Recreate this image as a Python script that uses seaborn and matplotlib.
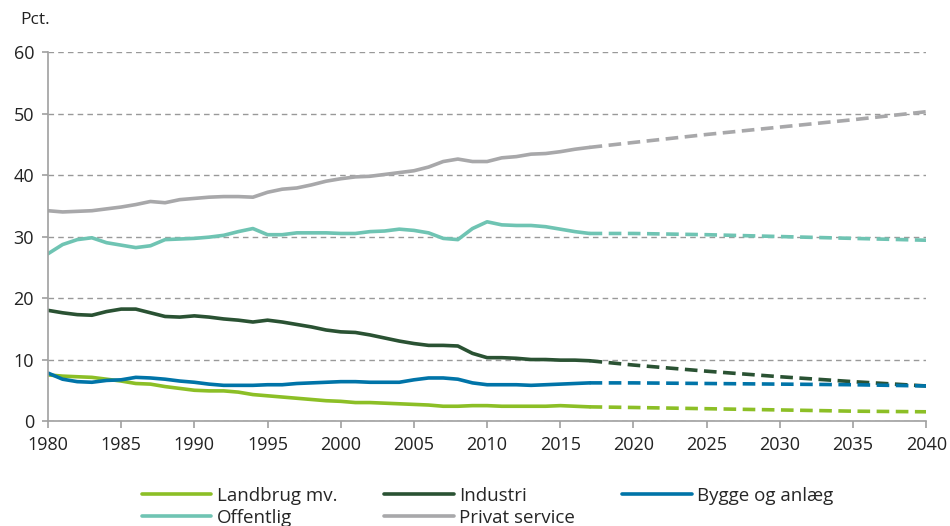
import matplotlib
import matplotlib.pyplot as plt
import pandas as pd
import seaborn as sns

matplotlib.use("Agg")

# Historical data 1980-2017
years = list(range(1980, 2018))
landbrug = [7.5, 7.3, 7.2, 7.1, 6.8, 6.5, 6.1, 6.0, 5.6, 5.3, 5.0, 4.9, 4.9, 4.7, 4.3, 4.1, 3.9, 3.7, 3.5,
            3.3, 3.2, 3.0, 3.0, 2.9, 2.8, 2.7, 2.6, 2.4, 2.4, 2.5, 2.5, 2.4, 2.4, 2.4, 2.4, 2.5, 2.4, 2.3]
industri = [18.0, 17.6, 17.3, 17.2, 17.8, 18.2, 18.2, 17.6, 17.0, 16.9, 17.1, 16.9, 16.6, 16.4, 16.1, 16.4,
            16.1, 15.7, 15.3, 14.8, 14.5, 14.4, 14.0, 13.5, 13.0, 12.6, 12.3, 12.3, 12.2, 11.0, 10.3, 10.3,
            10.2, 10.0, 10.0, 9.9, 9.9, 9.8]
bygge = [7.8, 6.8, 6.4, 6.3, 6.6, 6.7, 7.1, 7.0, 6.8, 6.5, 6.3, 6.0, 5.8, 5.8, 5.8, 5.9, 5.9, 6.1, 6.2,
         6.3, 6.4, 6.4, 6.3, 6.3, 6.3, 6.7, 7.0, 7.0, 6.8, 6.2, 5.9, 5.9, 5.9, 5.8, 5.9, 6.0, 6.1, 6.2]
offentlig = [27.2, 28.7, 29.5, 29.8, 29.0, 28.6, 28.2, 28.5, 29.5, 29.6, 29.7, 29.9, 30.2, 30.8, 31.3, 30.3,
             30.3, 30.6, 30.6, 30.6, 30.5, 30.5, 30.8, 30.9, 31.2, 31.0, 30.6, 29.7, 29.5, 31.3, 32.4, 31.9,
             31.8, 31.8, 31.6, 31.2, 30.8, 30.5]
privat = [34.2, 34.0, 34.1, 34.2, 34.5, 34.8, 35.2, 35.7, 35.5, 36.0, 36.2, 36.4, 36.5, 36.5, 36.4, 37.2,
          37.7, 37.9, 38.4, 39.0, 39.4, 39.7, 39.8, 40.1, 40.4, 40.7, 41.3, 42.2, 42.6, 42.2, 42.2, 42.8,
          43.0, 43.4, 43.5, 43.8, 44.2, 44.5]

# Projection 2017-2040
proj_years = [2017, 2020, 2025, 2030, 2035, 2040]
landbrug_proj = [2.3, 2.2, 2.0, 1.8, 1.6, 1.5]
industri_proj = [9.8, 9.1, 8.1, 7.2, 6.4, 5.7]
bygge_proj = [6.2, 6.2, 6.1, 6.0, 5.9, 5.7]
offentlig_proj = [30.5, 30.5, 30.3, 30.0, 29.7, 29.4]
privat_proj = [44.5, 45.3, 46.6, 47.8, 49.0, 50.3]

labels = ["Landbrug mv.", "Offentlig", "Industri", "Privat service", "Bygge og anlæg"]
colors = ["#8cbf26", "#6fc4b3", "#2a5233", "#a8a8aa", "#0074a8"]
hist = [landbrug, offentlig, industri, privat, bygge]
proj = [landbrug_proj, offentlig_proj, industri_proj, privat_proj, bygge_proj]

sns.set_theme(style="white")
plt.rcParams["font.family"] = ["Open Sans", "DejaVu Sans"]

fig = plt.figure(figsize=(9.5, 5.26), dpi=100)
ax = fig.add_axes([0.0505, 0.1996, 0.9245, 0.7014])

for lab, col, h, p in zip(labels, colors, hist, proj):
    sns.lineplot(x=years, y=h, ax=ax, color=col, lw=2.6, label=lab)
    sns.lineplot(x=proj_years, y=p, ax=ax, color=col, lw=2.6, linestyle=(0, (3.5, 1.8)), label="_nolegend_")

ax.set_xlim(1980, 2040)
ax.set_ylim(0, 60)
ax.set_xticks(range(1980, 2041, 5))
ax.set_yticks(range(0, 61, 10))
ax.yaxis.grid(True, color="#999999", linestyle=(0, (4, 3)), lw=1)
ax.xaxis.grid(False)
for s in ["top", "right"]:
    ax.spines[s].set_visible(False)
for s in ["left", "bottom"]:
    ax.spines[s].set_color("#a0a0a0")
    ax.spines[s].set_linewidth(1.2)
ax.tick_params(axis="both", which="major", labelsize=13, labelcolor="#222222", color="#a0a0a0",
               width=1.2, direction="out", bottom=True, left=True)
ax.tick_params(axis="x", length=5, pad=6)
ax.tick_params(axis="y", length=4, pad=6)
ax.set_xlabel("")
ax.set_ylabel("")
ax.text(-0.031, 1.086, "Pct.", transform=ax.transAxes, fontsize=12.5, color="#222222", ha="left", va="center")

ax.get_legend().remove()
handles, labs = ax.get_legend_handles_labels()
fig.legend(handles, labs, ncol=3, loc="upper left", bbox_to_anchor=(0.1495, 0.075), frameon=False,
           fontsize=13.5, handlelength=3.7, handletextpad=0.3, columnspacing=2.5, labelspacing=0.22,
           borderpad=0, borderaxespad=0)

fig.savefig("out.png", dpi=100, facecolor="white")
